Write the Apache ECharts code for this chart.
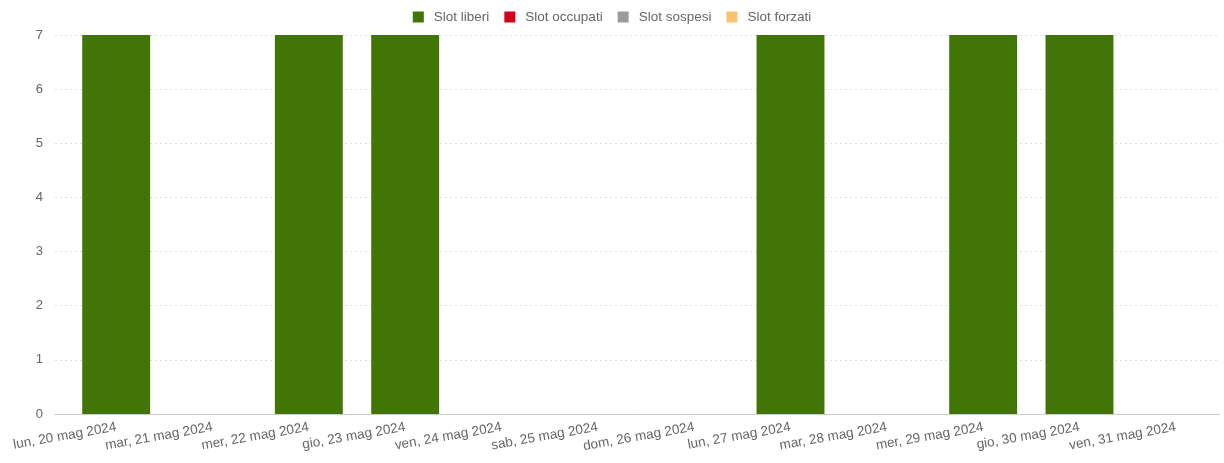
<!DOCTYPE html>
<html><head><meta charset="utf-8">
<script src="https://cdn.jsdelivr.net/npm/echarts@6/dist/echarts.min.js"></script>
<style>html,body{margin:0;padding:0;background:#fff}#c{width:1224px;height:463px}</style>
</head><body><div id="c"></div>
<script>
const categories = ["lun, 20 mag 2024","mar, 21 mag 2024","mer, 22 mag 2024","gio, 23 mag 2024","ven, 24 mag 2024","sab, 25 mag 2024","dom, 26 mag 2024","lun, 27 mag 2024","mar, 28 mag 2024","mer, 29 mag 2024","gio, 30 mag 2024","ven, 31 mag 2024"];
const slotLiberi   = [7,0,7,7,0,0,0,7,0,7,7,0];
const slotOccupati = [0,0,0,0,0,0,0,0,0,0,0,0];
const slotSospesi  = [0,0,0,0,0,0,0,0,0,0,0,0];
const slotForzati  = [0,0,0,0,0,0,0,0,0,0,0,0];
const yTicks = [0,1,2,3,4,5,6,7];

const font = '"Liberation Sans", Arial, sans-serif';
const chart = echarts.init(document.getElementById('c'));
const mk = (name, data, color) => ({
  name, type: 'bar', stack: 's', data, xAxisIndex: 1, yAxisIndex: 1,
  barWidth: '70.5%', itemStyle: { color }, emphasis: { disabled: true }
});
chart.setOption({
  animation: false,
  textStyle: { fontFamily: font },
  legend: {
    top: 5, left: 'center', itemWidth: 11, itemHeight: 11, itemGap: 15,
    icon: 'rect',
    textStyle: { color: '#666', fontSize: 13.5, fontFamily: font, padding: [0, 0, 0, 5] },
    data: ['Slot liberi','Slot occupati','Slot sospesi','Slot forzati']
  },
  grid: [
    { left: 55, right: 4, top: 35, bottom: 49 },
    { left: 68, width: 1158, top: 35, bottom: 49 }
  ],
  xAxis: [
    { type: 'value', gridIndex: 0, min: 0, max: 1, axisLabel: { show: false }, axisTick: { show: false }, splitLine: { show: false },
      axisLine: { show: true, onZero: false, lineStyle: { color: '#ccc', width: 1 } } },
    { type: 'category', gridIndex: 1, data: categories, boundaryGap: true,
      axisLine: { show: false }, axisTick: { show: false },
      axisLabel: { rotate: 10, interval: 0, margin: 13, color: '#666', fontSize: 13.5, fontFamily: font } }
  ],
  yAxis: [
    { type: 'value', gridIndex: 0, min: 0, max: 7, interval: 1,
      axisLine: { show: false }, axisTick: { show: false },
      axisLabel: { color: '#666', fontSize: 13, margin: 12, fontFamily: font,
        formatter: v => yTicks.includes(v) ? String(v) : '' },
      splitLine: { show: true, lineStyle: { color: '#e0e0e0', type: [2, 3], width: 1 } } },
    { type: 'value', gridIndex: 1, min: 0, max: 7, interval: 1, show: false }
  ],
  series: [
    mk('Slot liberi', slotLiberi, '#417505'),
    mk('Slot occupati', slotOccupati, '#d0021b'),
    mk('Slot sospesi', slotSospesi, '#9b9b9b'),
    mk('Slot forzati', slotForzati, '#f8c471')
  ]
});
</script></body></html>
